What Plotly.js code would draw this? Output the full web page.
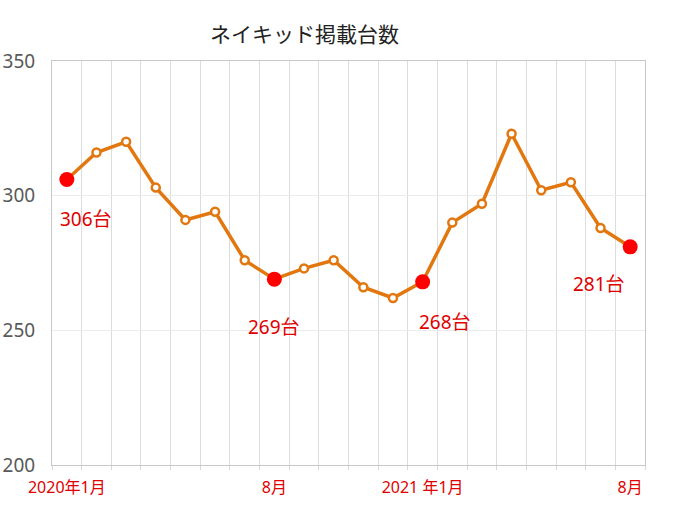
<!DOCTYPE html>
<html>
<head>
<meta charset="utf-8">
<script src="https://cdn.plot.ly/plotly-3.0.1.min.js"></script>
<style>html,body{margin:0;padding:0;background:#fff;}#chart{width:680px;height:511px;}</style>
</head>
<body>
<div id="chart"></div>
<script>
const months = ["2020-01","2020-02","2020-03","2020-04","2020-05","2020-06","2020-07","2020-08","2020-09","2020-10","2020-11","2020-12","2021-01","2021-02","2021-03","2021-04","2021-05","2021-06","2021-07","2021-08"];
const tickLabels = ["2020年1月","","","","","","","8月","","","","","2021 年1月","","","","","","","8月"];
const values = [306,316,320,303,291,294,276,269,273,276,266,262,268,290,297,323,302,305,288,281];
const highlightIdx = [0,7,12,19];
const labelShifts = [[19,-39],[0,-48],[22,-40],[-31,-37]];

const hx = highlightIdx.map(i => months[i]);
const hy = highlightIdx.map(i => values[i]);

const orange = "#e2770f";
const red = "#ff0000";
const labelRed = "#e00000";
const font = "Noto Sans, Noto Sans CJK JP, sans-serif";

const traces = [
  {
    x: months, y: values, type: "scatter", mode: "lines+markers",
    line: {color: orange, width: 3.5},
    marker: {size: 8, color: "#ffffff", line: {color: orange, width: 2.5}},
    hoverinfo: "skip"
  },
  {
    x: hx, y: hy, type: "scatter", mode: "markers",
    marker: {size: 15, color: red},
    hoverinfo: "skip"
  }
];

const annotations = highlightIdx.map((i, k) => ({
  x: months[i], y: values[i], xref: "x", yref: "y",
  text: values[i] + "台", showarrow: false,
  xshift: labelShifts[k][0], yshift: labelShifts[k][1],
  font: {family: font, size: 19, color: labelRed}
}));

const layout = {
  width: 680, height: 511,
  margin: {l: 52, r: 35, t: 61, b: 46},
  paper_bgcolor: "#ffffff", plot_bgcolor: "#ffffff",
  showlegend: false,
  title: {text: "ネイキッド掲載台数", x: 0.426, xref: "paper", xanchor: "center",
          y: 1 - 35/511, yref: "container", yanchor: "middle",
          font: {family: font, size: 21, color: "#222222"}},
  xaxis: {
    type: "category", tickmode: "array", tickvals: months, ticktext: tickLabels,
    tickson: "boundaries", ticks: "outside", ticklen: 4, tickcolor: "#d9d9d9",
    tickangle: 0,
    showgrid: true, gridcolor: "#dcdcdc", gridwidth: 1,
    showline: true, linecolor: "#c8c8c8", linewidth: 1, mirror: true,
    tickfont: {family: font, size: 16, color: labelRed},
    ticklabelstandoff: 8,
    range: [-0.5, 19.5], fixedrange: true, zeroline: false
  },
  yaxis: {
    range: [200, 350], tickmode: "array", tickvals: [200,250,300,350],
    showgrid: true, gridcolor: "#ebebeb", gridwidth: 1,
    showline: true, linecolor: "#c8c8c8", linewidth: 1, mirror: true,
    ticks: "", tickfont: {family: font, size: 19, color: "#595959"},
    ticklabelstandoff: 12, zeroline: false, fixedrange: true
  },
  annotations: annotations
};

Plotly.newPlot("chart", traces, layout, {displayModeBar: false, staticPlot: true});
</script>
</body>
</html>
